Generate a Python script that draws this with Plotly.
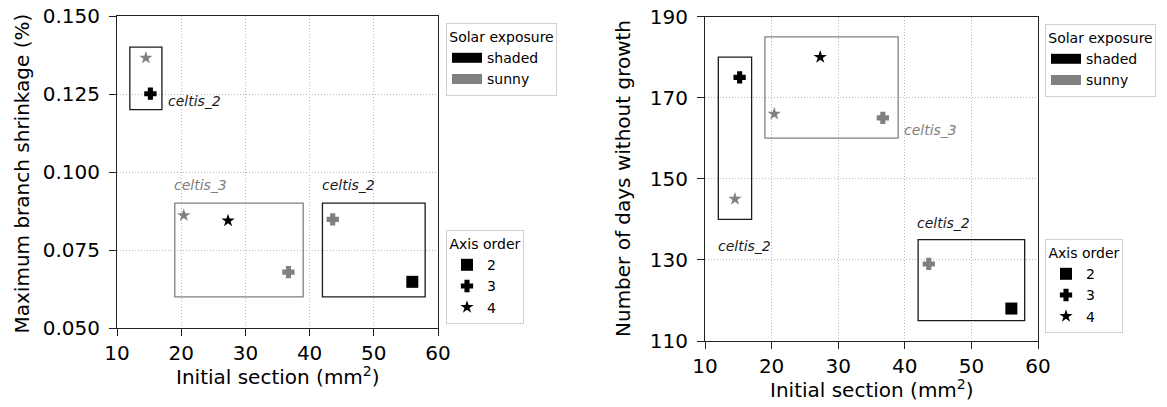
# -*- coding: utf-8 -*-
# Ramas de Celtis: sección inicial vs. contracción máxima y días sin crecimiento
import plotly.graph_objects as go

# --- Datos ---
seccion_inicial = [14.5, 15.2, 20.4, 27.3, 36.7, 43.6, 56.0]
contraccion_max = [0.1366, 0.1251, 0.0861, 0.0844, 0.0679, 0.0848, 0.0648]
dias_sin_crecimiento = [145, 175, 166, 180, 165, 129, 118]
exposicion_solar = ['sunny', 'shaded', 'sunny', 'shaded', 'sunny', 'sunny', 'shaded']
orden_eje = [4, 3, 4, 4, 3, 3, 2]

# Cajas que agrupan los árboles
arbol_caja = ['celtis_2', 'celtis_3', 'celtis_2']
caja_x0 = [12, 19, 42]
caja_x1 = [17, 39, 58]
caja_contr_y0 = [0.12, 0.06, 0.06]
caja_contr_y1 = [0.14, 0.09, 0.09]
caja_dias_y0 = [140, 160, 115]
caja_dias_y1 = [180, 185, 135]

# Leyendas
exposiciones = ['shaded', 'sunny']
ordenes = [2, 3, 4]

# --- Estilos ---
FUENTE = 'DejaVu Sans'
color_exp = {'shaded': '#000000', 'sunny': '#808080'}
color_arbol = {'celtis_2': '#1a1a1a', 'celtis_3': '#808080'}
simbolo = {2: 'square', 3: 'cross', 4: 'star'}
tamano = {2: 12, 3: 9, 4: 10}
borde = {2: 0, 3: 1.5, 4: 0}   # la cruz del original es más gruesa

# posición de las etiquetas de cada caja (coordenadas de datos)
etiq_izq = [(17.6, 0.1227), (18.6, 0.0958), (41.6, 0.0958)]
etiq_der = [(11.6, 133.3), (39.6, 162.1), (41.6, 139.1)]

W, H = 1167, 407

fig = go.Figure()

paneles = [
    ('x', 'y', contraccion_max, caja_contr_y0, caja_contr_y1, etiq_izq, 'legend', 'legend2'),
    ('x2', 'y2', dias_sin_crecimiento, caja_dias_y0, caja_dias_y1, etiq_der, 'legend3', 'legend4'),
]

for xa, ya, valores, y0s, y1s, etiquetas, ley_exp, ley_ord in paneles:
    # Puntos
    for i in range(len(seccion_inicial)):
        o = orden_eje[i]
        c = color_exp[exposicion_solar[i]]
        fig.add_trace(go.Scatter(
            x=[seccion_inicial[i]], y=[valores[i]], mode='markers',
            marker=dict(symbol=simbolo[o], size=tamano[o], color=c,
                        line=dict(width=borde[o], color=c)),
            xaxis=xa, yaxis=ya, showlegend=False, hoverinfo='skip'))
    # Cajas y etiquetas
    for j, nombre in enumerate(arbol_caja):
        fig.add_shape(type='rect', xref=xa, yref=ya,
                      x0=caja_x0[j], x1=caja_x1[j], y0=y0s[j], y1=y1s[j],
                      line=dict(color=color_arbol[nombre], width=1.3))
        fig.add_annotation(x=etiquetas[j][0], y=etiquetas[j][1], xref=xa, yref=ya,
                           text='<i>' + nombre + '</i>', showarrow=False,
                           xanchor='left', yanchor='middle',
                           font=dict(family=FUENTE, size=14, color=color_arbol[nombre]))
    # Leyenda: exposición solar (rectángulos)
    for e in exposiciones:
        fig.add_trace(go.Scatter(
            x=[None], y=[None], mode='lines', line=dict(color=color_exp[e], width=11),
            name=e, legend=ley_exp, xaxis=xa, yaxis=ya))
    # Leyenda: orden de eje
    for o in ordenes:
        fig.add_trace(go.Scatter(
            x=[None], y=[None], mode='markers', name=str(o), legend=ley_ord,
            marker=dict(symbol=simbolo[o], size=tamano[o], color='black',
                        line=dict(width=borde[o], color='black')),
            xaxis=xa, yaxis=ya))

# Títulos de los ejes como anotaciones (posición fija)
titulos = [
    ('Initial section (mm<sup>2</sup>)', 278, 376, 0),
    ('Initial section (mm<sup>2</sup>)', 872, 389, 0),
    ('Maximum branch shrinkage (%)', 22, 173.5, -90),
    ('Number of days without growth', 623, 179, -90),
]
for texto, px, py, ang in titulos:
    fig.add_annotation(x=px / W, y=1 - py / H, xref='paper', yref='paper',
                       text=texto, showarrow=False, textangle=ang,
                       xanchor='center', yanchor='middle',
                       font=dict(family=FUENTE, size=20, color='black'))

eje_comun = dict(
    showline=True, linecolor='#222', linewidth=1, mirror=True,
    ticks='outside', ticklen=7, tickcolor='#222',
    showgrid=True, gridcolor='#b8b8b8', griddash='1px,2px', gridwidth=1,
    zeroline=False, automargin=False,
    tickfont=dict(family=FUENTE, size=20, color='black'),
)

leyenda_comun = dict(
    bgcolor='white', bordercolor='#d0d0d0', borderwidth=1,
    font=dict(family=FUENTE, size=14, color='black'),
    xanchor='left', yanchor='top', tracegroupgap=0,
)
titulo_ley = dict(family=FUENTE, size=14, color='black')

fig.update_layout(
    width=W, height=H, template='none',
    margin=dict(l=0, r=0, t=0, b=0),
    paper_bgcolor='white', plot_bgcolor='white',
    xaxis=dict(eje_comun, domain=[117 / W, 438 / W], range=[10, 60], tick0=10, dtick=10,
               anchor='y'),
    yaxis=dict(eje_comun, domain=[1 - 328 / H, 1 - 16 / H], range=[0.05, 0.15],
               tick0=0.05, dtick=0.025, tickformat='.3f', ticklabelstandoff=5, anchor='x'),
    xaxis2=dict(eje_comun, domain=[705 / W, 1038 / W], range=[10, 60], tick0=10, dtick=10,
                anchor='y2'),
    yaxis2=dict(eje_comun, domain=[1 - 341 / H, 1 - 16.5 / H], range=[110, 190],
                tick0=110, dtick=20, ticklabelstandoff=5, anchor='x2'),
    legend=dict(leyenda_comun, x=446 / W, y=1 - 23 / H,
                title=dict(text='Solar exposure', side='top center', font=titulo_ley)),
    legend2=dict(leyenda_comun, x=446 / W, y=1 - 230 / H,
                 title=dict(text='Axis order', side='top center', font=titulo_ley)),
    legend3=dict(leyenda_comun, x=1045 / W, y=1 - 24 / H,
                 title=dict(text='Solar exposure', side='top center', font=titulo_ley)),
    legend4=dict(leyenda_comun, x=1045 / W, y=1 - 239 / H,
                 title=dict(text='Axis order', side='top center', font=titulo_ley)),
)

# sin margen en el <body> para que la figura ocupe exactamente la ventana
fig.write_html('out.html', config={'displayModeBar': False},
               post_script="document.body.style.margin='0';")
